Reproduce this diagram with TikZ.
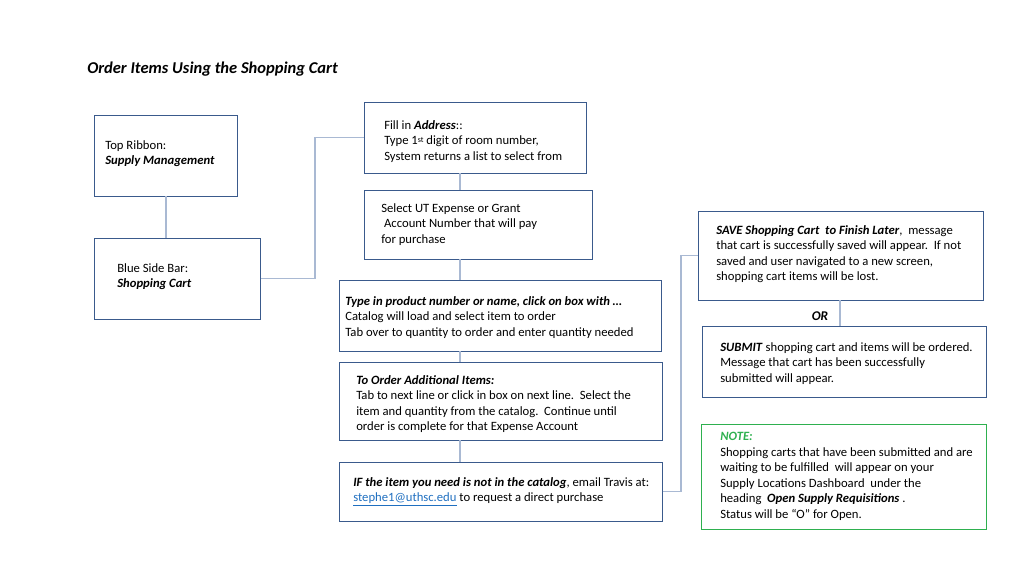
\documentclass[tikz,border=0pt]{standalone}
\usepackage{fontspec}
\setmainfont{Carlito}
\begin{document}
\begin{tikzpicture}[x=0.75pt,y=-0.75pt,
 box/.style={draw=boxc,line width=0.75pt,inner sep=0pt},
 conn/.style={draw=connc,line width=0.8pt},
 txt/.style={anchor=north west,align=left,inner sep=0pt,font=\fontsize{9.5}{11.7}\selectfont}]
\definecolor{boxc}{HTML}{3A5A8C}
\definecolor{connc}{HTML}{A9B9D3}
\definecolor{notec}{HTML}{2EB04F}
\definecolor{linkc}{HTML}{1F6FC0}
\useasboundingbox (0,0) rectangle (1024,576);
\newcommand\bx[5]{\node[box,#5,minimum width={(#3-#1)*0.75pt},minimum height={(#4-#2)*0.75pt}] at ({(#1+#3)/2},{(#2+#4)/2})}
\node[anchor=west,inner sep=0pt,font=\fontsize{12.4}{14}\selectfont\bfseries\itshape] (title) at (87,69) {Order Items Using the Shopping Cart};
\bx{94}{115}{237}{196}{} (top) {};
\bx{94}{238}{260}{319}{} (blue) {};
\bx{364}{102}{586}{173}{} (fill) {};
\bx{364}{190}{592}{259}{} (sel) {};
\bx{339}{280}{661}{351}{} (type) {};
\bx{339}{362}{662}{440}{} (add) {};
\bx{339}{462}{662}{521}{} (ifb) {};
\bx{698}{211}{983}{300}{} (save) {};
\bx{702}{326}{986}{397}{} (sub) {};
\bx{701}{424}{986}{529}{draw=notec} (note) {};
\node[txt] at (105,140) {Top Ribbon:\\\textbf{\textit{Supply Management}}};
\node[txt] at (117,263) {Blue Side Bar:\\\textbf{\textit{Shopping Cart}}};
\node[txt] at (384,120) {Fill in \textbf{\textit{Address}}::\\Type 1{\fontsize{6}{6}\selectfont\raisebox{0.5ex}{st}} digit of room number,\\System returns a list to select from};
\node[txt] at (381,203) {Select UT Expense or Grant\\\ Account Number that will pay\\for purchase};
\node[txt] at (345,296) {\textbf{\textit{Type in product number or name, click on box with …}}\\Catalog will load and select item to order\\Tab over to quantity to order and enter quantity needed};
\node[txt] at (356,375) {\textbf{\textit{To Order Additional Items:}}\\Tab to next line or click in box on next line.\ \ Select the\\item and quantity from the catalog.\ \ Continue until\\order is complete for that Expense Account};
\node[txt] at (353,477) {\textbf{\textit{IF the item you need is not in the catalog}}, email Travis at:\\\textcolor{linkc}{\underline{stephe1@uthsc.edu}} to request a direct purchase};
\node[txt] at (716,225) {\textbf{\textit{SAVE Shopping Cart\ \ to Finish Later}},\ \ message\\that cart is successfully saved will appear.\ \ If not\\saved and user navigated to a new screen,\\shopping cart items will be lost.};
\node[txt] at (720,342) {\textbf{\textit{SUBMIT}} shopping cart and items will be ordered.\\Message that cart has been successfully\\submitted will appear.};
\node[txt] at (720,432) {\textcolor{notec}{\textbf{\textit{NOTE:}}}\\Shopping carts that have been submitted and are\\waiting to be fulfilled\ \ will appear on your\\Supply Locations Dashboard\ \ under the\\heading\ \ \textbf{\textit{Open Supply Requisitions}} .\\Status will be “O” for Open.};
\node[inner sep=0pt,font=\fontsize{10}{12}\selectfont\bfseries\itshape] (or) at (820,316) {OR};
\draw[conn] (166,196) -- (166,238);
\draw[conn] (blue.east) -- (315,278.5) |- (fill.west);
\draw[conn] (460,173) -- (460,190);
\draw[conn] (460,259) -- (460,280);
\draw[conn] (460,351) -- (460,362);
\draw[conn] (460,440) -- (460,462);
\draw[conn] (ifb.east) -- (681,491.5) |- (save.west);
\draw[conn] (840,300) -- (840,326);
\end{tikzpicture}
\end{document}
